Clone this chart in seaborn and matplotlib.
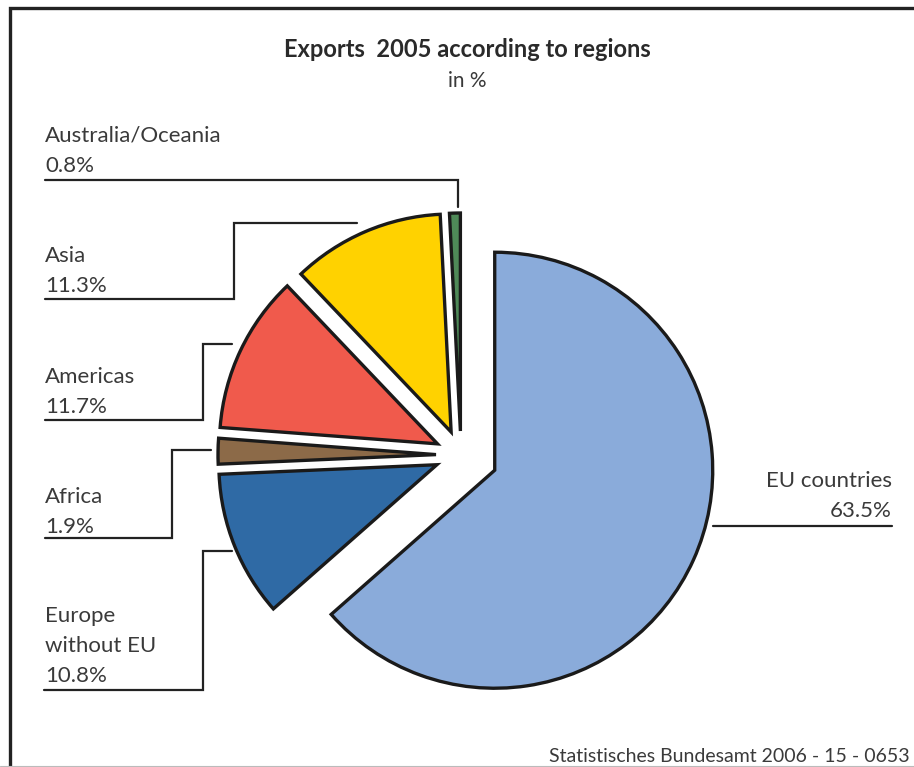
import seaborn as sns
import matplotlib.pyplot as plt
import numpy as np


sns.set_theme(style='white')
plt.rcParams['font.family'] = ['Lato', 'DejaVu Sans']

regions = ['EU countries', 'Europe without EU', 'Africa', 'Americas', 'Asia', 'Australia/Oceania']
shares = [63.5, 10.8, 1.9, 11.7, 11.3, 0.8]
label_lines = [['EU countries', '63.5%'],
               ['Europe', 'without EU', '10.8%'],
               ['Africa', '1.9%'],
               ['Americas', '11.7%'],
               ['Asia', '11.3%'],
               ['Australia/Oceania', '0.8%']]
colors = ['#8aabda', '#2f6aa5', '#8c6a48', '#f05a4c', '#ffd200', '#4f8a58']
# pie explode is in data units (pixels here)
explode = [37, 26, 25, 26, 25, 24]

W, H = 914, 767
def Y(v):
    return H - v

# leader lines in picture pixels (x, y from top)
leaders = [[(713, 526), (892, 526)],
           [(44, 690), (203, 690), (203, 551), (232, 551)],
           [(45, 538), (172, 538), (172, 450), (211, 450)],
           [(45, 420), (203, 420), (203, 344), (232, 344)],
           [(45, 299), (234, 299), (234, 223), (357, 223)],
           [(45, 180), (458, 180), (458, 207)]]
# first baseline, x anchor, alignment
text_pos = [(892, 487, 'right'), (45, 622, 'left'), (45, 503, 'left'),
            (45, 383, 'left'), (45, 262, 'left'), (45, 142, 'left')]

fig = plt.figure(figsize=(W / 100, H / 100), dpi=100)
ax = fig.add_axes([0, 0, 1, 1])
ax.pie(shares, colors=colors, startangle=90, counterclock=False, explode=explode,
       center=(461, Y(455)), radius=218,
       wedgeprops=dict(edgecolor='#1a1a1a', linewidth=2.4, joinstyle='miter'))
ax.set_xlim(0, W)
ax.set_ylim(0, H)
ax.set_aspect('auto')
ax.axis('off')

for pts, lines, (tx, ty, ha) in zip(leaders, label_lines, text_pos):
    xs = [p[0] for p in pts]
    ys = [Y(p[1]) for p in pts]
    ax.plot(xs, ys, color='#222222', lw=1.6, solid_joinstyle='miter')
    for i, s in enumerate(lines):
        ax.text(tx, Y(ty + 30 * i), s, ha=ha, va='baseline', fontsize=16, color='#3a3a3a')

ax.text(467, Y(57), 'Exports  2005 according to regions', ha='center', va='baseline',
        fontsize=17, fontweight='bold', color='#2a2a2a')
ax.text(467, Y(87), 'in %', ha='center', va='baseline', fontsize=15, color='#3a3a3a')
ax.text(910, Y(762), 'Statistisches Bundesamt 2006 - 15 - 0653', ha='right', va='baseline',
        fontsize=14, color='#3a3a3a')

# frame
ax.plot([10, 10, W], [0, Y(8), Y(8)], color='#222222', lw=2.4, clip_on=False, solid_joinstyle='miter')
ax.plot([0, W], [Y(766), Y(766)], color='#bbbbbb', lw=0.8, clip_on=False)

fig.savefig('out.png', dpi=100)
